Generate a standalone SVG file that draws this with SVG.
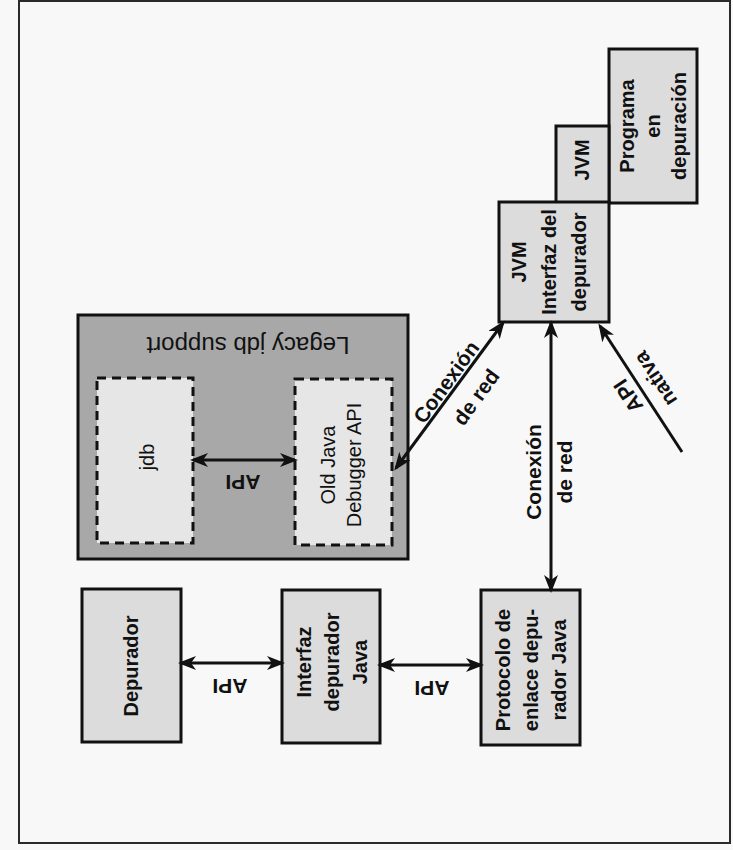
<svg xmlns="http://www.w3.org/2000/svg" width="733" height="850" viewBox="0 0 733 850">
<style>
.bg{fill:#f8f8f8}
.frame{fill:none;stroke:#2a2a2a;stroke-width:2}
.node{fill:#dcdcdc;stroke:#111;stroke-width:3}
.legacy{fill:#a8a8a8;stroke:#111;stroke-width:3}
.dash{fill:#e6e6e6;stroke:#111;stroke-width:3;stroke-dasharray:9 6}
.t{font-family:"Liberation Sans",Arial,sans-serif;font-size:20px;font-weight:bold;fill:#111;text-anchor:middle;dominant-baseline:central}
.l{font-family:"Liberation Sans",Arial,sans-serif;font-size:21px;font-weight:bold;fill:#111;text-anchor:middle;dominant-baseline:central}
.r{font-family:"Liberation Sans",Arial,sans-serif;font-size:20px;fill:#111;text-anchor:middle;dominant-baseline:central}
.big{font-size:24px}
.c{fill:none;stroke:#111;stroke-width:3}
</style>
<defs>
<marker id="ah" viewBox="0 0 18 14" refX="15" refY="7" markerWidth="18" markerHeight="14" markerUnits="userSpaceOnUse" orient="auto-start-reverse">
<path d="M0,0 L18,7 L0,14 L5,7 Z" fill="#111"/>
</marker>
</defs>
<rect class="bg" x="0" y="0" width="733" height="850"/>
<rect class="frame" x="19" y="1" width="711" height="842"/>

<g id="programa">
<rect class="node" x="609" y="49" width="88" height="154"/>
<text class="t" transform="rotate(-90 653 126)" x="653" y="126"><tspan x="653" dy="-26">Programa</tspan><tspan x="653" dy="26">en</tspan><tspan x="653" dy="26">depuración</tspan></text>
</g>
<g id="jvm">
<rect class="node" x="556" y="126" width="53" height="77"/>
<text class="t" transform="rotate(-90 582 160)" x="582" y="160">JVM</text>
</g>
<g id="jvm-interfaz">
<rect class="node" x="499" y="202" width="110" height="120"/>
<text class="t" transform="rotate(-90 549 262)" x="549" y="262"><tspan x="549" dy="-30">JVM</tspan><tspan x="549" dy="30">Interfaz del</tspan><tspan x="549" dy="30">depurador</tspan></text>
</g>

<g id="legacy">
<rect class="legacy" x="78" y="315" width="330" height="244"/>
<text class="r big" transform="rotate(180 248 345)" x="248" y="345">Legacy jdb support</text>
</g>
<g id="jdb">
<rect class="dash" x="97" y="378" width="96" height="165"/>
<text class="r" transform="rotate(-90 147 457)" x="147" y="457">jdb</text>
</g>
<g id="old-java">
<rect class="dash" x="295" y="379" width="97" height="166"/>
<text class="r" transform="rotate(-90 341 465)" x="341" y="465"><tspan x="341" dy="-13">Old Java</tspan><tspan x="341" dy="26">Debugger API</tspan></text>
</g>

<g id="depurador">
<rect class="node" x="82" y="589" width="99" height="153"/>
<text class="t" transform="rotate(-90 131 666)" x="131" y="666">Depurador</text>
</g>
<g id="interfaz-java">
<rect class="node" x="282" y="590" width="98" height="153"/>
<text class="t" transform="rotate(-90 332 662)" x="332" y="662"><tspan x="332" dy="-28">Interfaz</tspan><tspan x="332" dy="28">depurador</tspan><tspan x="332" dy="28">Java</tspan></text>
</g>
<g id="protocolo">
<rect class="node" x="481" y="590" width="99" height="155"/>
<text class="t" transform="rotate(-90 531 670)" x="531" y="670"><tspan x="531" dy="-28">Protocolo de</tspan><tspan x="531" dy="28">enlace depu-</tspan><tspan x="531" dy="28">rador Java</tspan></text>
</g>

<g id="connectors">
<line class="c" x1="193" y1="460" x2="295" y2="460" marker-start="url(#ah)" marker-end="url(#ah)"/>
<text class="l" transform="rotate(180 243 482)" x="243" y="482">API</text>
<line class="c" x1="181" y1="663" x2="282" y2="663" marker-start="url(#ah)" marker-end="url(#ah)"/>
<text class="l" transform="rotate(180 230 686)" x="230" y="686">API</text>
<line class="c" x1="380" y1="665" x2="481" y2="665" marker-start="url(#ah)" marker-end="url(#ah)"/>
<text class="l" transform="rotate(180 432 688)" x="432" y="688">API</text>
<line class="c" x1="551" y1="323" x2="551" y2="590" marker-start="url(#ah)" marker-end="url(#ah)"/>
<text class="l" transform="rotate(-90 533 472)" x="533" y="472">Conexión</text>
<text class="l" transform="rotate(-90 564 472)" x="564" y="472">de red</text>
<line class="c" x1="396" y1="468" x2="503" y2="323" marker-start="url(#ah)" marker-end="url(#ah)"/>
<text class="l" transform="rotate(-54 446 382)" x="446" y="382">Conexión</text>
<text class="l" transform="rotate(-54 476 397)" x="476" y="397">de red</text>
<line class="c" x1="682" y1="452" x2="600" y2="326" marker-end="url(#ah)"/>
<text class="l" transform="rotate(-123.5 628 396)" x="628" y="396">API</text>
<text class="l" transform="rotate(-123.5 655 379)" x="655" y="379">nativa</text>
</g>
</svg>
